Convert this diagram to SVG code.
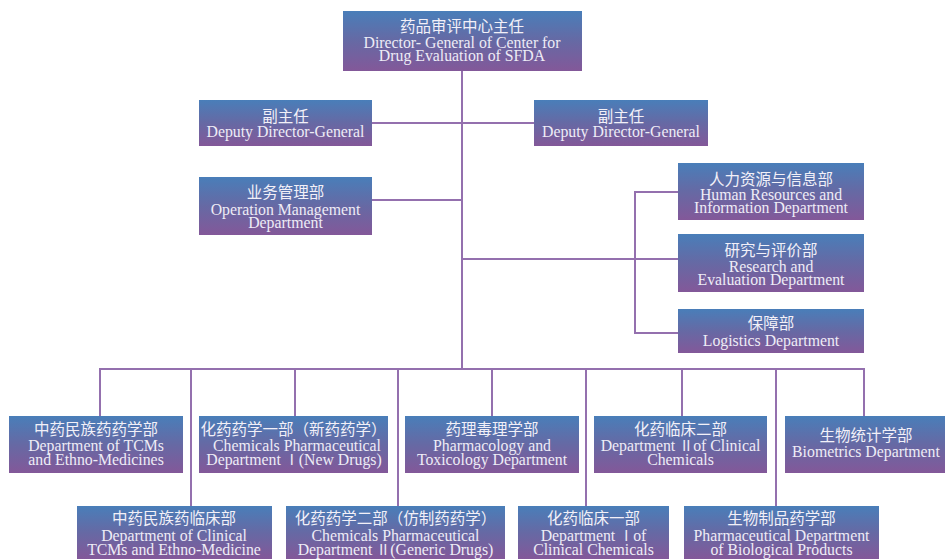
<svg xmlns="http://www.w3.org/2000/svg" width="945" height="559" viewBox="0 0 945 559">
<defs>
<linearGradient id="g" x1="0" y1="0" x2="0" y2="1">
<stop offset="0" stop-color="#497eb9"/>
<stop offset="0.5" stop-color="#6669a4"/>
<stop offset="1" stop-color="#835899"/>
</linearGradient>
<style>
.box{fill:url(#g);}
.zh{font-family:"Noto Sans CJK SC","Noto Sans",sans-serif;font-size:15.5px;fill:#f2f0f8;text-anchor:middle;}
.en{font-family:"Liberation Serif","Times New Roman",serif;font-size:15.8px;fill:#eeecf6;text-anchor:middle;}
.rn{font-family:"Noto Sans CJK SC",sans-serif;font-size:14px;}
.ln{fill:none;stroke:#9470ae;stroke-width:2;}
</style>
</defs>
<rect width="945" height="559" fill="#ffffff"/>
<g id="connectors" class="ln">
<path d="M462,71V369"/>
<path d="M372,123H534"/>
<path d="M372,200H462"/>
<path d="M462,259H678"/>
<path d="M678,192H635V333H678"/>
<path d="M100,416V369H864V416"/>
<path d="M191,369V506"/>
<path d="M295,369V416"/>
<path d="M398,369V506"/>
<path d="M492,369V416"/>
<path d="M586,369V506"/>
<path d="M682,369V416"/>
<path d="M776,369V506"/>
</g>
<g id="director">
<rect class="box" x="343" y="11" width="239" height="60"/>
<text class="zh" x="462" y="32">药品审评中心主任</text>
<text class="en" x="462" y="48">Director- General of Center for</text>
<text class="en" x="462" y="61">Drug Evaluation of SFDA</text>
</g>
<g id="deputy1">
<rect class="box" x="199" y="100" width="173" height="46"/>
<text class="zh" x="285.5" y="122">副主任</text>
<text class="en" x="285.5" y="137">Deputy Director-General</text>
</g>
<g id="deputy2">
<rect class="box" x="534" y="100" width="174" height="46"/>
<text class="zh" x="621" y="122">副主任</text>
<text class="en" x="621" y="137">Deputy Director-General</text>
</g>
<g id="operation">
<rect class="box" x="199" y="177" width="173" height="58"/>
<text class="zh" x="285.5" y="198">业务管理部</text>
<text class="en" x="285.5" y="215">Operation Management</text>
<text class="en" x="285.5" y="228">Department</text>
</g>
<g id="hr">
<rect class="box" x="678" y="163" width="186" height="57"/>
<text class="zh" x="771" y="185">人力资源与信息部</text>
<text class="en" x="771" y="200">Human Resources and</text>
<text class="en" x="771" y="213">Information Department</text>
</g>
<g id="research">
<rect class="box" x="678" y="234" width="186" height="58"/>
<text class="zh" x="771" y="256">研究与评价部</text>
<text class="en" x="771" y="272">Research and</text>
<text class="en" x="771" y="285">Evaluation Department</text>
</g>
<g id="logistics">
<rect class="box" x="678" y="309" width="186" height="44"/>
<text class="zh" x="771" y="329">保障部</text>
<text class="en" x="771" y="346">Logistics Department</text>
</g>
<g id="tcm">
<rect class="box" x="9" y="416" width="174" height="57"/>
<text class="zh" x="96" y="435">中药民族药药学部</text>
<text class="en" x="96" y="451">Department of TCMs</text>
<text class="en" x="96" y="465">and Ethno-Medicines</text>
</g>
<g id="chem1">
<rect class="box" x="199" y="416" width="189" height="57"/>
<text class="zh" x="293.5" y="435">化药药学一部（新药药学）</text>
<text class="en" x="297" y="451">Chemicals Pharmaceutical</text>
<text class="en" x="294" y="465">Department <tspan class="rn">Ⅰ</tspan>(New Drugs)</text>
</g>
<g id="pharmtox">
<rect class="box" x="405" y="416" width="174" height="57"/>
<text class="zh" x="492" y="435">药理毒理学部</text>
<text class="en" x="492" y="451">Pharmacology and</text>
<text class="en" x="492" y="465">Toxicology Department</text>
</g>
<g id="clin2">
<rect class="box" x="594" y="416" width="173" height="57"/>
<text class="zh" x="680.5" y="435">化药临床二部</text>
<text class="en" x="680.5" y="451">Department <tspan class="rn">Ⅱ</tspan>of Clinical</text>
<text class="en" x="680.5" y="465">Chemicals</text>
</g>
<g id="biometrics">
<rect class="box" x="785" y="416" width="160" height="57"/>
<text class="zh" x="866" y="441">生物统计学部</text>
<text class="en" x="866" y="457">Biometrics Department</text>
</g>
<g id="tcmclin">
<rect class="box" x="77" y="506" width="195" height="53"/>
<text class="zh" x="174" y="524">中药民族药临床部</text>
<text class="en" x="174" y="541">Department of Clinical</text>
<text class="en" x="174" y="555">TCMs and Ethno-Medicine</text>
</g>
<g id="chem2">
<rect class="box" x="286" y="506" width="219" height="53"/>
<text class="zh" x="395.5" y="524">化药药学二部（仿制药药学）</text>
<text class="en" x="395.5" y="541">Chemicals Pharmaceutical</text>
<text class="en" x="395.5" y="555">Department <tspan class="rn">Ⅱ</tspan>(Generic Drugs)</text>
</g>
<g id="clin1">
<rect class="box" x="518" y="506" width="151" height="53"/>
<text class="zh" x="593.5" y="524">化药临床一部</text>
<text class="en" x="593.5" y="541">Department <tspan class="rn">Ⅰ</tspan>of</text>
<text class="en" x="593.5" y="555">Clinical Chemicals</text>
</g>
<g id="bio">
<rect class="box" x="684" y="506" width="195" height="53"/>
<text class="zh" x="781.5" y="524">生物制品药学部</text>
<text class="en" x="781.5" y="541">Pharmaceutical Department</text>
<text class="en" x="781.5" y="555">of Biological Products</text>
</g>
</svg>
